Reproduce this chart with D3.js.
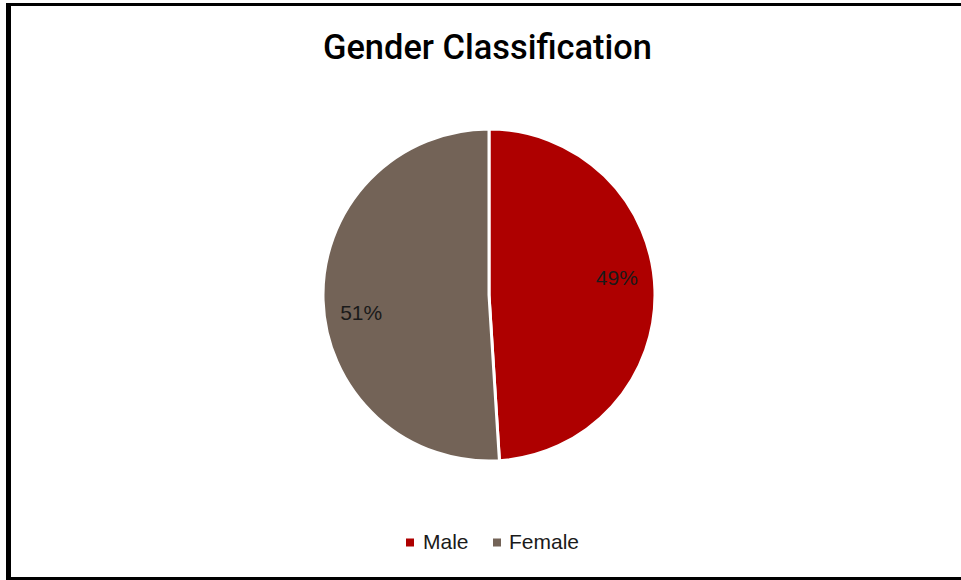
<!DOCTYPE html>
<html>
<head>
<meta charset="utf-8">
<script src="https://cdn.jsdelivr.net/npm/d3@7"></script>
<style>
html,body{margin:0;padding:0;background:#fff;}
svg{display:block;}
text{font-family:"Liberation Sans",Arial,sans-serif;}
</style>
</head>
<body>
<svg id="chart" width="961" height="580"></svg>
<script>
const categories = ["Male", "Female"];
const values = [49, 51];
const labels = ["49%", "51%"];
const colors = ["#AE0000", "#736357"];
const title = "Gender Classification";

const svg = d3.select("#chart");
const W = 961, H = 580;

// frame
svg.append("rect").attr("x",0).attr("y",0).attr("width",W).attr("height",H).attr("fill","#fff");
svg.append("rect").attr("x",6).attr("y",3).attr("width",5).attr("height",577).attr("fill","#000");
svg.append("rect").attr("x",6).attr("y",3).attr("width",W-6).attr("height",3).attr("fill","#000");
svg.append("rect").attr("x",6).attr("y",577).attr("width",W-6).attr("height",3).attr("fill","#000");

// title
svg.append("text")
  .attr("x", 487.5).attr("y", 59)
  .attr("text-anchor","middle")
  .style("font-family","Roboto, 'Liberation Sans', Arial, sans-serif")
  .attr("font-weight", 500)
  .attr("font-size", 35)
  .attr("textLength", 329)
  .attr("lengthAdjust","spacingAndGlyphs")
  .attr("fill","#000")
  .text(title);

const cx = 489, cy = 295, r = 166;
const data = categories.map((c,i)=>({cat:c, value:values[i], label:labels[i], color:colors[i]}));
const pie = d3.pie().value(d=>d.value).sort(null).startAngle(0).endAngle(2*Math.PI);
const arc = d3.arc().innerRadius(0).outerRadius(r);
const arcs = pie(data);

const g = svg.append("g").attr("transform", `translate(${cx},${cy})`);
g.selectAll("path.slice").data(arcs).enter().append("path")
  .attr("class","slice")
  .attr("d", arc)
  .attr("fill", d=>d.data.color)
  .attr("stroke","#fff")
  .attr("stroke-width",3)
  .attr("stroke-linejoin","round");

const labelOffset = -6 * Math.PI/180;
const labelR = 129;
g.selectAll("text.lbl").data(arcs).enter().append("text")
  .attr("class","lbl")
  .attr("x", d=>{const a=(d.startAngle+d.endAngle)/2+labelOffset; return labelR*Math.sin(a);})
  .attr("y", d=>{const a=(d.startAngle+d.endAngle)/2+labelOffset; return -labelR*Math.cos(a);})
  .attr("dy", "0.36em")
  .attr("text-anchor","middle")
  .attr("font-size", 21)
  .attr("fill","#1a1a1a")
  .text(d=>d.data.label);

// legend
const legendItems = [
  {x:406, tx:423},
  {x:493, tx:509}
];
const lg = svg.append("g");
data.forEach((d,i)=>{
  lg.append("rect").attr("x",legendItems[i].x).attr("y",538.5).attr("width",8).attr("height",8).attr("fill",d.color);
  lg.append("text").attr("x",legendItems[i].tx).attr("y",549).attr("font-size",21).attr("fill","#1a1a1a").text(d.cat);
});
</script>
</body>
</html>
